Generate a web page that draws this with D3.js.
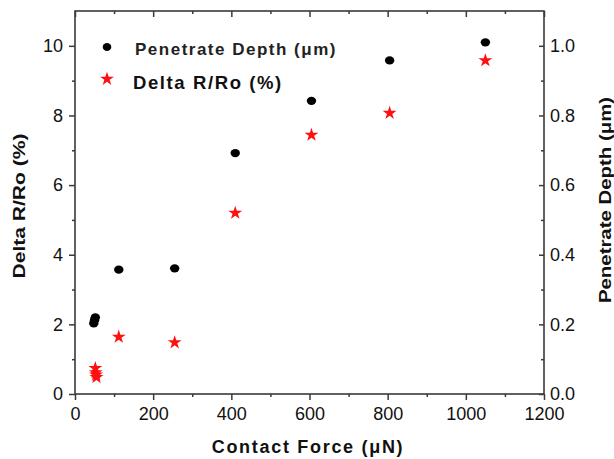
<!DOCTYPE html>
<html>
<head>
<meta charset="utf-8">
<script src="https://cdn.jsdelivr.net/npm/d3@7"></script>
<style>
  body { margin: 0; background: #fff; }
  svg { display: block; font-family: Arial, "Liberation Sans", sans-serif; }
</style>
</head>
<body>
<svg id="chart" width="614" height="459"></svg>
<script>
// Contact force (µN) for each indentation
const forceDepth = [48, 50, 52, 112, 255, 410, 605, 805, 1050];
// Penetrate depth (µm), right axis
const depth = [0.203, 0.212, 0.220, 0.357, 0.361, 0.692, 0.842, 0.958, 1.010];
// Contact force (µN) for resistance change points
const forceDR = [52, 53, 54, 55, 112, 255, 410, 605, 805, 1050];
// Delta R/Ro (%), left axis
const deltaR = [0.74, 0.62, 0.55, 0.48, 1.64, 1.48, 5.20, 7.44, 8.07, 9.58];

const xTicks = [0, 200, 400, 600, 800, 1000, 1200];
const yLeftTicks = [0, 2, 4, 6, 8, 10];
const yRightTicks = [0.0, 0.2, 0.4, 0.6, 0.8, 1.0];

const svg = d3.select("#chart");
const m = { left: 75, right: 544, top: 11, bottom: 394 };
const axisColor = "#3a3a3a";

const x = d3.scaleLinear().domain([0, 1200]).range([m.left, m.right]);
const yL = d3.scaleLinear().domain([0, 11]).range([m.bottom, m.top]);
const yR = d3.scaleLinear().domain([0, 1.1]).range([m.bottom, m.top]);

function styleAxis(g) {
  g.selectAll(".domain").remove();
  g.selectAll("line").attr("stroke", axisColor).attr("stroke-width", 1.5);
  g.selectAll("text").attr("fill", "#111").style("font-size", "18px");
}

// Minor ticks
const xMinor = d3.range(100, 1200, 200);
const yLMinor = [1, 3, 5, 7, 9];
const yRMinor = [0.1, 0.3, 0.5, 0.7, 0.9];

// Bottom axis (ticks outward)
svg.append("g").attr("transform", `translate(0,${m.bottom})`)
  .call(d3.axisBottom(x).tickValues(xTicks).tickSize(6).tickPadding(7).tickFormat(d3.format("d")))
  .call(styleAxis);
svg.append("g").attr("transform", `translate(0,${m.bottom})`)
  .call(d3.axisBottom(x).tickValues(xMinor).tickSize(3).tickFormat(""))
  .call(styleAxis);

// Top axis (ticks inward)
svg.append("g").attr("transform", `translate(0,${m.top})`)
  .call(d3.axisBottom(x).tickValues(xTicks).tickSize(6).tickFormat(""))
  .call(styleAxis);
svg.append("g").attr("transform", `translate(0,${m.top})`)
  .call(d3.axisBottom(x).tickValues(xMinor).tickSize(3).tickFormat(""))
  .call(styleAxis);

// Left axis (ticks outward)
svg.append("g").attr("transform", `translate(${m.left},0)`)
  .call(d3.axisLeft(yL).tickValues(yLeftTicks).tickSize(6).tickPadding(6).tickFormat(d3.format("d")))
  .call(styleAxis);
svg.append("g").attr("transform", `translate(${m.left},0)`)
  .call(d3.axisLeft(yL).tickValues(yLMinor).tickSize(3).tickFormat(""))
  .call(styleAxis);

// Right axis (ticks inward, labels outside)
svg.append("g").attr("transform", `translate(${m.right},0)`)
  .call(d3.axisLeft(yR).tickValues(yRightTicks).tickSize(5).tickFormat(""))
  .call(styleAxis);
svg.append("g").attr("transform", `translate(${m.right},0)`)
  .call(d3.axisLeft(yR).tickValues(yRMinor).tickSize(3).tickFormat(""))
  .call(styleAxis);
svg.append("g").attr("transform", `translate(${m.right},0)`)
  .call(d3.axisRight(yR).tickValues(yRightTicks).tickSize(0).tickPadding(6).tickFormat(d3.format(".1f")))
  .call(styleAxis);

// Frame
svg.append("rect")
  .attr("x", m.left).attr("y", m.top)
  .attr("width", m.right - m.left).attr("height", m.bottom - m.top)
  .attr("fill", "none").attr("stroke", axisColor).attr("stroke-width", 1.6);

// Axis titles
svg.append("text")
  .attr("x", 308).attr("y", 453)
  .attr("text-anchor", "middle")
  .style("font-size", "18px").style("font-weight", "bold").style("letter-spacing", "1.7px")
  .attr("fill", "#111")
  .text("Contact Force (\u03BCN)");

svg.append("text")
  .attr("transform", "translate(25,206) rotate(-90) scale(1.24,1)")
  .attr("text-anchor", "middle")
  .style("font-size", "17px").style("font-weight", "bold")
  .attr("fill", "#111")
  .text("Delta R/Ro (%)");

svg.append("text")
  .attr("transform", "translate(611,200) rotate(-90) scale(1.2,1)")
  .attr("text-anchor", "middle")
  .style("font-size", "17px").style("font-weight", "bold")
  .attr("fill", "#111")
  .text("Penetrate Depth (\u03BCm)");

// Data markers
const star = d3.symbol().type(d3.symbolStar).size(60);

svg.append("g").selectAll("path")
  .data(forceDR.map((f, i) => [f, deltaR[i]]))
  .join("path")
  .attr("transform", d => `translate(${x(d[0])},${yL(d[1])})`)
  .attr("d", star)
  .attr("fill", "#ff1010");

svg.append("g").selectAll("ellipse")
  .data(forceDepth.map((f, i) => [f, depth[i]]))
  .join("ellipse")
  .attr("cx", d => x(d[0])).attr("cy", d => yR(d[1]))
  .attr("rx", 4.7).attr("ry", 4.1)
  .attr("fill", "#000");

// Legend
const leg = svg.append("g");
leg.append("ellipse").attr("cx", 107).attr("cy", 47).attr("rx", 4.3).attr("ry", 4).attr("fill", "#000");
leg.append("text").attr("x", 135).attr("y", 55)
  .style("font-size", "17px").style("font-weight", "600").style("letter-spacing", "1.5px")
  .attr("fill", "#222").text("Penetrate Depth (\u03BCm)");
leg.append("path").attr("transform", "translate(107,79)").attr("d", star).attr("fill", "#ff1010");
leg.append("text").attr("x", 133).attr("y", 89)
  .style("font-size", "18.5px").style("font-weight", "bold").style("letter-spacing", "1.6px")
  .attr("fill", "#111").text("Delta R/Ro (%)");
</script>
</body>
</html>
